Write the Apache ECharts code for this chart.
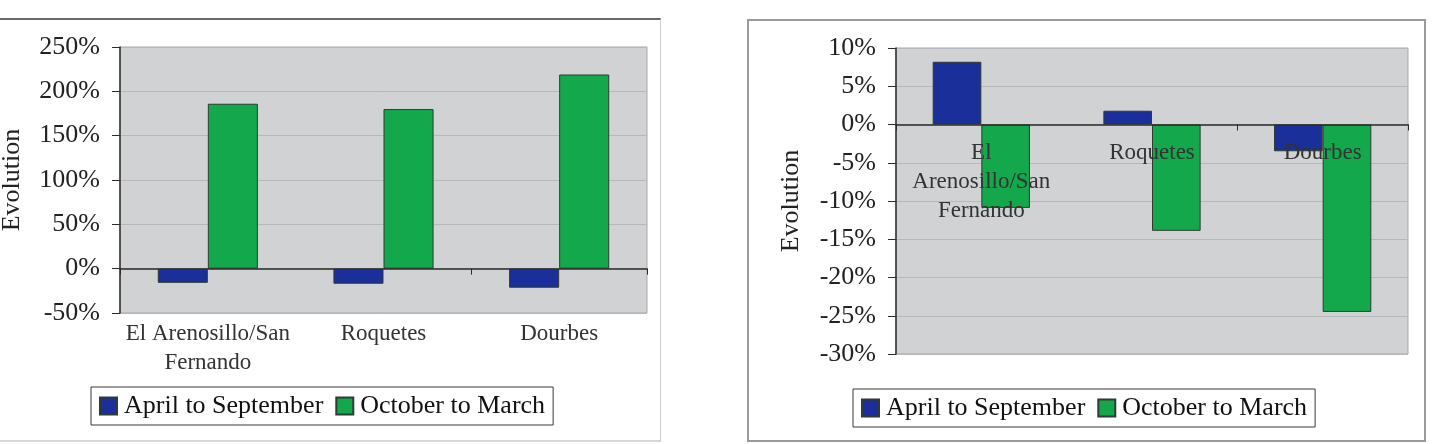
<!DOCTYPE html>
<html lang="en">
  <head>
    <meta charset="UTF-8" />
    <title>Evolution</title>
    <style>
      * {
        padding: 0;
        margin: 0;
        box-sizing: border-box;
      }
      body {
        background: #fff;
        width: 1433px;
        height: 444px;
        overflow: hidden;
        position: relative;
      }
      #chart {
        position: absolute;
        left: 0;
        top: 0;
        width: 1433px;
        height: 444px;
      }
      /* panel frames, drawn over the chart */
      .frame {
        position: absolute;
        pointer-events: none;
      }
      .frame-left {
        left: 0;
        top: 18px;
        width: 661px;
        height: 424px;
        border-top: 2px solid #6a6a6a;
        border-right: 1px solid #cfcfcf;
        border-bottom: 2px solid #d6d6d6;
      }
      .frame-right {
        left: 747px;
        top: 19px;
        width: 679px;
        height: 423px;
        border: 2px solid #9a9a9a;
      }
    </style>
    <script src="https://cdn.jsdelivr.net/npm/echarts@6/dist/echarts.min.js"></script>
  </head>
  <body>
    <div id="chart"></div>
    <div class="frame frame-left"></div>
    <div class="frame frame-right"></div>
  </body>
  <script>
    // data (values in %)
    const categories = ["El Arenosillo/San Fernando", "Roquetes", "Dourbes"];
    const seriesNames = ["April to September", "October to March"];
    const leftApr = [-16, -17, -21.5];
    const leftOct = [186, 180, 219];
    const rightApr = [8.2, 1.8, -3.5];
    const rightOct = [-10.9, -13.9, -24.5];
    const leftTicks = [-50, 0, 50, 100, 150, 200, 250];
    const rightTicks = [-30, -25, -20, -15, -10, -5, 0, 5, 10];

    const colors = ["#1b2f9a", "#12a84b"];
    const font = "'Liberation Serif', 'Times New Roman', serif";
    const dark = "#2b2b2b";

    const myChart = echarts.init(document.getElementById("chart"));

    function yAxis(gridIndex, ticks, nameGap) {
      return {
        type: "value",
        gridIndex: gridIndex,
        min: ticks[0],
        max: ticks[ticks.length - 1],
        interval: ticks[1] - ticks[0],
        name: "Evolution",
        nameLocation: "middle",
        nameGap: nameGap,
        nameTextStyle: { fontFamily: font, fontSize: 26, color: "#222" },
        axisLine: { show: true, lineStyle: { color: dark, width: 1.5 } },
        axisTick: { show: true, length: 8, lineStyle: { color: dark } },
        axisLabel: {
          margin: 20,
          fontFamily: font,
          fontSize: 26,
          color: "#222",
          formatter: "{value}%",
        },
        splitLine: { lineStyle: { color: "#b7b8ba", width: 1 } },
      };
    }

    function bars(name, data, axisIndex, colorIndex) {
      return {
        name: name,
        type: "bar",
        xAxisIndex: axisIndex,
        yAxisIndex: axisIndex,
        data: data,
        barGap: "0%",
        barCategoryGap: "43%",
        itemStyle: {
          color: colors[colorIndex],
          borderColor: "#2f3b33",
          borderWidth: 1,
        },
      };
    }

    function legend(left, top) {
      return {
        data: seriesNames,
        left: left,
        top: top,
        orient: "horizontal",
        itemWidth: 17,
        itemHeight: 17,
        itemGap: 12,
        icon: "rect",
        padding: [6, 8, 6, 8],
        borderColor: "#3a3a3a",
        borderWidth: 1,
        backgroundColor: "#fff",
        textStyle: {
          fontFamily: font,
          fontSize: 26,
          color: "#111",
          padding: [0, 0, 0, 2],
        },
      };
    }

    // axis carrying only the category labels
    function labelAxis(gridIndex, offset, margin, formatter) {
      return {
        type: "category",
        gridIndex: gridIndex,
        data: categories,
        position: "bottom",
        offset: offset,
        axisLine: { show: false, onZero: false },
        axisTick: { show: false },
        axisLabel: {
          interval: 0,
          margin: margin,
          fontFamily: font,
          fontSize: 23,
          lineHeight: 29,
          color: "#333",
          formatter: formatter,
        },
        z: 5,
      };
    }

    const option = {
      animation: false,
      legend: [legend(91, 387), legend(853, 389)],
      grid: [
        {
          left: 120,
          top: 47,
          width: 527,
          height: 266,
          outerBoundsMode: "none",
          show: true,
          backgroundColor: "#d1d2d4",
          borderColor: "#a8a9ab",
          borderWidth: 1,
        },
        {
          left: 896,
          top: 48,
          width: 512,
          height: 306,
          outerBoundsMode: "none",
          show: true,
          backgroundColor: "#d1d2d4",
          borderColor: "#a8a9ab",
          borderWidth: 1,
        },
      ],
      xAxis: [
        {
          type: "category",
          gridIndex: 0,
          data: categories,
          axisLine: { onZero: true, lineStyle: { color: dark, width: 1.5 } },
          axisTick: { show: true, length: 6, lineStyle: { color: dark } },
          axisLabel: { show: false },
          z: 5,
        },
        {
          type: "category",
          gridIndex: 1,
          data: categories,
          axisLine: { onZero: true, lineStyle: { color: dark, width: 1.5 } },
          axisTick: { show: true, length: 6, lineStyle: { color: dark } },
          axisLabel: { show: false },
          z: 5,
        },
        // left chart: labels under the plot area
        labelAxis(0, 0, 6, (v) => v.replace("/San ", "/San\n")),
        // right chart: labels just under the zero line, over the bars
        labelAxis(1, -229.5, 14, (v) =>
          v.replace("El ", "El\n").replace("/San ", "/San\n")
        ),
      ],
      yAxis: [yAxis(0, leftTicks, 95), yAxis(1, rightTicks, 92)],
      series: [
        bars(seriesNames[0], leftApr, 0, 0),
        bars(seriesNames[1], leftOct, 0, 1),
        bars(seriesNames[0], rightApr, 1, 0),
        bars(seriesNames[1], rightOct, 1, 1),
      ],
    };

    myChart.setOption(option);
  </script>
</html>
